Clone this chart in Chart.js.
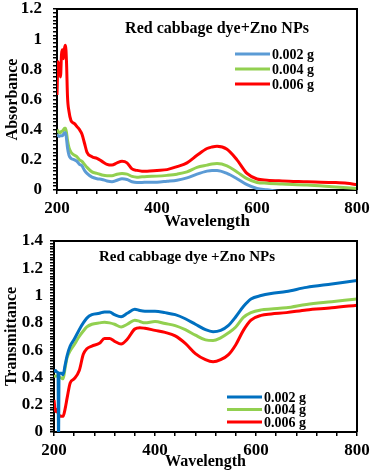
<!DOCTYPE html>
<html>
<head>
<meta charset="utf-8">
<script src="https://cdn.jsdelivr.net/npm/chart.js@4.4.1/dist/chart.umd.min.js"></script>
<style>
  body { margin: 0; background: #fff; }
  .box { position: absolute; left: 0; }
  #top { top: 0; }
  #bottom { top: 230px; }
</style>
</head>
<body>
<div class="box" id="top"><canvas id="absChart" width="374" height="236"></canvas></div>
<div class="box" id="bottom"><canvas id="transChart" width="374" height="245"></canvas></div>
<script>
// absorbance spectra (top)
const absWavelengths = [200, 202, 204, 207, 209, 211, 213, 215, 217, 219, 221, 224, 228, 235, 240, 245, 250, 255, 260, 270,
    280, 290, 300, 310, 320, 330, 340, 350, 360, 370, 380, 400, 420, 440, 460, 480, 500, 510, 520, 540,
    560, 580, 600, 620, 650, 700, 750, 780, 800];
const abs002 = [0.37, 0.36, 0.355, 0.36, 0.36, 0.36, 0.37, 0.38, 0.38, 0.34, 0.28, 0.23, 0.21, 0.20, 0.19, 0.17, 0.16, 0.13, 0.11, 0.085,
    0.075, 0.07, 0.06, 0.055, 0.065, 0.075, 0.07, 0.055, 0.05, 0.05, 0.052, 0.052, 0.058, 0.065, 0.08, 0.105, 0.125, 0.13, 0.13, 0.11,
    0.075, 0.035, 0.01, 0.002, -0.01, -0.01, -0.01, -0.01, -0.01];
const abs004 = [0.40, 0.39, 0.38, 0.38, 0.39, 0.39, 0.40, 0.41, 0.41, 0.38, 0.33, 0.28, 0.25, 0.23, 0.22, 0.20, 0.19, 0.17, 0.15, 0.12,
    0.11, 0.10, 0.095, 0.095, 0.105, 0.11, 0.105, 0.09, 0.085, 0.088, 0.09, 0.092, 0.097, 0.105, 0.12, 0.15, 0.165, 0.172, 0.175, 0.16,
    0.12, 0.075, 0.05, 0.045, 0.04, 0.033, 0.022, 0.015, 0.01];
const abs006 = [0.63, 0.85, 0.82, 0.75, 0.90, 0.93, 0.87, 0.94, 0.96, 0.85, 0.62, 0.52, 0.46, 0.44, 0.42, 0.40, 0.37, 0.31, 0.25, 0.22,
    0.21, 0.19, 0.17, 0.165, 0.18, 0.19, 0.18, 0.14, 0.13, 0.125, 0.125, 0.13, 0.135, 0.155, 0.18, 0.23, 0.275, 0.285, 0.29, 0.27,
    0.20, 0.11, 0.073, 0.065, 0.06, 0.055, 0.05, 0.045, 0.035];

// transmittance spectra (bottom)
const transWavelengths = [200, 203, 206, 208, 209, 210, 212, 215, 218, 222, 226, 232, 240, 250, 258, 265, 275, 290, 300, 310,
    320, 333, 345, 360, 370, 380, 400, 420, 440, 460, 480, 500, 515, 530, 545, 560, 575, 590, 610, 630,
    660, 700, 750, 800];
const trans002 = [0.44, 0.45, 0.44, 0.43, -0.05, 0.43, 0.43, 0.43, 0.42, 0.49, 0.56, 0.63, 0.68, 0.75, 0.80, 0.835, 0.86, 0.87, 0.88, 0.88,
    0.86, 0.845, 0.87, 0.90, 0.89, 0.885, 0.885, 0.875, 0.86, 0.83, 0.79, 0.75, 0.735, 0.745, 0.78, 0.845, 0.92, 0.975, 1.0, 1.015,
    1.03, 1.06, 1.085, 1.11];
const trans004 = [0.405, 0.41, 0.41, 0.405, 0.405, 0.40, 0.40, 0.395, 0.39, 0.47, 0.545, 0.595, 0.64, 0.70, 0.74, 0.77, 0.79, 0.80, 0.805, 0.80,
    0.79, 0.77, 0.79, 0.82, 0.81, 0.80, 0.81, 0.795, 0.78, 0.75, 0.71, 0.675, 0.67, 0.69, 0.725, 0.77, 0.84, 0.875, 0.895, 0.902,
    0.91, 0.935, 0.955, 0.975];
const trans006 = [0.235, 0.15, 0.165, 0.14, 0.13, 0.125, 0.115, 0.115, 0.115, 0.17, 0.25, 0.36, 0.39, 0.45, 0.57, 0.61, 0.63, 0.65, 0.685, 0.685,
    0.665, 0.645, 0.68, 0.755, 0.765, 0.76, 0.745, 0.73, 0.705, 0.65, 0.575, 0.53, 0.515, 0.53, 0.565, 0.64, 0.745, 0.82, 0.855, 0.865,
    0.875, 0.895, 0.91, 0.93];

const seriesLabels = ['0.002 g', '0.004 g', '0.006 g'];
const wavelengthTicks = [200, 400, 600, 800];
const absTicks = [0, 0.2, 0.4, 0.6, 0.8, 1, 1.2];
const transTicks = [0, 0.2, 0.4, 0.6, 0.8, 1, 1.2, 1.4];

Chart.defaults.font.family = '"Liberation Serif", "Times New Roman", serif';
Chart.defaults.color = '#000';

const serif = (size) => ({ family: '"Liberation Serif", "Times New Roman", serif', size: size, weight: 'bold', lineHeight: 1.2 });

function steps(min, max, step) {
    const out = [];
    const n = Math.round((max - min) / step);
    for (let i = 0; i <= n; i++) out.push({ value: Math.round((min + i * step) * 1000) / 1000 });
    return out;
}

function points(xs, ys) {
    return xs.map((x, i) => ({ x: x, y: ys[i] }));
}

// plot frame, inner title and legend
const framePlugin = {
    id: 'frame',
    afterDraw(chart, args, opts) {
        const { ctx, chartArea: a } = chart;
        ctx.save();
        ctx.strokeStyle = '#000';
        ctx.lineWidth = 2;
        ctx.beginPath();
        ctx.moveTo(a.left, a.top);
        ctx.lineTo(a.right, a.top);
        ctx.lineTo(a.right, a.bottom);
        ctx.stroke();

        ctx.fillStyle = '#000';
        ctx.textBaseline = 'middle';
        ctx.textAlign = 'center';
        ctx.font = 'bold ' + opts.titleSize + 'px "Liberation Serif"';
        ctx.fillText(opts.title, opts.titleX, opts.titleY);

        ctx.textAlign = 'left';
        ctx.font = 'bold 14px "Liberation Serif"';
        chart.data.datasets.forEach((ds, i) => {
            const y = opts.legendY + i * opts.legendGap;
            ctx.strokeStyle = ds.borderColor;
            ctx.lineWidth = 3;
            ctx.beginPath();
            ctx.moveTo(opts.legendX, y);
            ctx.lineTo(opts.legendX + 35, y);
            ctx.stroke();
            ctx.fillText(ds.label, opts.legendX + 37, y + 1);
        });
        ctx.restore();
    }
};

function makeChart(id, o) {
    return new Chart(document.querySelector(id), {
        type: 'line',
        data: {
            datasets: o.series.map((ys, i) => ({
                label: seriesLabels[i],
                data: points(o.wavelengths, ys),
                borderColor: o.colors[i],
                borderWidth: 3,
                pointRadius: 0,
                cubicInterpolationMode: 'monotone',
                clip: 0
            }))
        },
        options: {
            responsive: false,
            animation: false,
            devicePixelRatio: 1,
            layout: { padding: { top: o.padTop, right: o.padRight, left: 0, bottom: 0 } },
            scales: {
                x: {
                    type: 'linear',
                    min: 200,
                    max: 800,
                    afterBuildTicks: s => { s.ticks = steps(200, 800, 40); },
                    afterFit: s => { s.height = o.xHeight; s.paddingLeft = 0; s.paddingRight = 0; },
                    ticks: {
                        autoSkip: false,
                        maxRotation: 0,
                        padding: o.xTickPad,
                        font: serif(17),
                        callback: v => wavelengthTicks.includes(v) ? String(v) : ''
                    },
                    grid: { drawOnChartArea: false, tickLength: 4, color: '#000', lineWidth: 1.5 },
                    border: { color: '#000', width: 2 },
                    title: { display: true, text: 'Wavelength', font: serif(o.xTitleSize), padding: { top: 0, bottom: o.xTitlePad } }
                },
                y: {
                    type: 'linear',
                    min: 0,
                    max: o.yMax,
                    afterBuildTicks: s => { s.ticks = steps(0, o.yMax, o.yMinor); },
                    afterFit: s => { s.width = o.yWidth; s.paddingTop = 0; s.paddingBottom = 0; },
                    ticks: {
                        autoSkip: false,
                        padding: o.yTickPad,
                        font: serif(17),
                        callback: v => {
                            const t = o.yTicks.find(k => Math.abs(k - v) < 1e-6);
                            return t === undefined ? '' : String(t);
                        }
                    },
                    grid: { drawOnChartArea: false, tickLength: 4, color: '#000', lineWidth: 1.5 },
                    border: { color: '#000', width: 2 },
                    title: { display: true, text: o.yTitle, font: serif(16), padding: { top: o.yTitlePad, bottom: 0 } }
                }
            },
            plugins: {
                legend: { display: false },
                tooltip: { enabled: false },
                frame: o.frame
            }
        },
        plugins: [framePlugin]
    });
}

makeChart('#absChart', {
    wavelengths: absWavelengths,
    series: [abs002, abs004, abs006],
    colors: ['#5B9BD5', '#92D050', '#FF0000'],
    yMax: 1.2,
    yMinor: 0.025,
    yTicks: absTicks,
    yTitle: 'Absorbance',
    yWidth: 57,
    yTickPad: 11,
    yTitlePad: 3,
    xHeight: 46,
    xTickPad: 4,
    xTitleSize: 17,
    xTitlePad: 4,
    padTop: 9,
    padRight: 17,
    frame: { title: 'Red cabbage dye+Zno NPs', titleSize: 16, titleX: 217, titleY: 29, legendX: 235, legendY: 54, legendGap: 15 }
});

makeChart('#transChart', {
    wavelengths: transWavelengths,
    series: [trans002, trans004, trans006],
    colors: ['#0070C0', '#92D050', '#FF0000'],
    yMax: 1.4,
    yMinor: 0.02,
    yTicks: transTicks,
    yTitle: 'Transmittance',
    yWidth: 54,
    yTickPad: 7,
    yTitlePad: 2,
    xHeight: 43,
    xTickPad: 4,
    xTitleSize: 16,
    xTitlePad: 4,
    padTop: 11,
    padRight: 17,
    frame: { title: 'Red cabbage dye +Zno NPs', titleSize: 15, titleX: 187, titleY: 27, legendX: 227, legendY: 167, legendGap: 12.5 }
});
</script>
</body>
</html>
